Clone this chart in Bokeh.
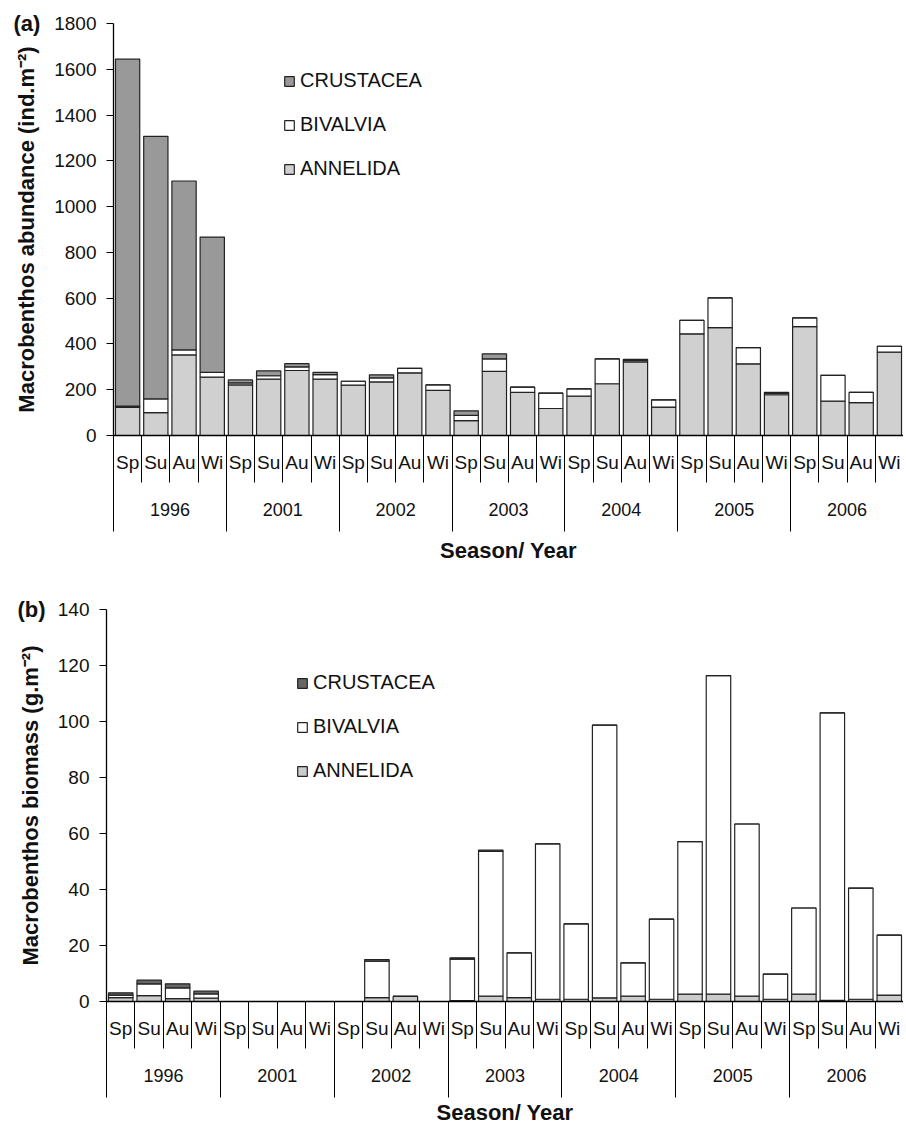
from bokeh.plotting import figure
from bokeh.models import Range1d, FixedTicker, LinearAxis, Legend, LegendItem
from bokeh.layouts import column
from bokeh.embed import file_html
from bokeh.resources import INLINE

# ---------------- data ----------------
seasons = ["Sp", "Su", "Au", "Wi"]
years = ["1996", "2001", "2002", "2003", "2004", "2005", "2006"]
taxa = ["CRUSTACEA", "BIVALVIA", "ANNELIDA"]

# (a) abundance, ind.m-2 (Sp, Su, Au, Wi for each year)
abund_annelida = [123, 100, 352, 255, 221, 246, 284, 246, 220, 234, 274, 197,
                  65, 280, 188, 118, 172, 226, 322, 124, 444, 471, 313, 178,
                  476, 150, 144, 364]
abund_bivalvia = [5, 60, 22, 21, 9, 15, 16, 20, 17, 18, 19, 24,
                  23, 55, 23, 67, 32, 109, 6, 32, 59, 130, 71, 6,
                  38, 113, 44, 26]
abund_crustacea = [1516, 1147, 738, 591, 13, 21, 14, 10, 0, 13, 0, 0,
                   20, 22, 0, 0, 0, 0, 5, 0, 0, 0, 0, 5,
                   0, 0, 0, 0]

# (b) biomass, g.m-2
biom_annelida = [1.4, 2.1, 1.0, 1.2, 0, 0, 0, 0, 0, 1.4, 1.8, 0,
                 0.3, 1.9, 1.4, 0.8, 0.8, 1.3, 1.9, 0.8, 2.6, 2.6, 1.9, 0.8,
                 2.6, 0.4, 0.8, 2.3]
biom_bivalvia = [0.9, 4.2, 3.9, 1.5, 0, 0, 0, 0, 0, 13.0, 0, 0,
                 14.8, 51.7, 16.0, 55.5, 26.9, 97.4, 11.9, 28.6, 54.5, 113.8, 61.5, 9.0,
                 30.8, 102.7, 39.7, 21.4]
biom_crustacea = [0.8, 1.3, 1.4, 1.0, 0, 0, 0, 0, 0, 0.6, 0, 0,
                  0.5, 0.5, 0, 0, 0, 0, 0, 0, 0, 0, 0, 0,
                  0, 0, 0, 0]

yticks_a = [0, 200, 400, 600, 800, 1000, 1200, 1400, 1600, 1800]
yticks_b = [0, 20, 40, 60, 80, 100, 120, 140]

# ---------------- helpers ----------------
NS = len(seasons)
N = NS * len(years)
season_labels = [seasons[i % NS] for i in range(N)]
xc = list(range(N))
bounds = [i - 0.5 for i in range(N + 1)]
year_centers = [NS * k + (NS - 1) / 2 for k in range(len(years))]
year_bounds = [NS * k - 0.5 for k in range(len(years) + 1)]

FONT = "Liberation Sans"


def make_panel(ann, biv, cru, yticks, ylabel, tag, c_cru, c_ann,
               frame_w, frame_h, b_left, b_top, b_bottom, leg_xy, tag_dx,
               ax_standoff):
    p = figure(frame_width=frame_w, frame_height=frame_h,
               x_range=Range1d(-0.5, N - 0.5), y_range=Range1d(yticks[0], yticks[-1]),
               output_backend="svg", toolbar_location=None,
               min_border_left=b_left, min_border_right=0,
               min_border_top=b_top, min_border_bottom=b_bottom)
    p.frame_align = False
    p.grid.visible = False
    p.outline_line_color = None

    # panel tag "(a)" / "(b)" as the figure title, pulled down beside the top tick
    p.title.text = tag
    p.title.align = "left"
    p.title.offset = -tag_dx
    p.title.standoff = -25
    p.title.vertical_align = "bottom"
    p.title.text_font = FONT
    p.title.text_font_size = "22px"
    p.title.text_font_style = "bold"
    p.title.text_color = "#111111"

    src = dict(x=xc, ann=ann, biv=biv, cru=cru)
    rs = p.vbar_stack(["ann", "biv", "cru"], x="x", width=0.86, source=src,
                      fill_color=[c_ann, "white", c_cru],
                      line_color="#222222", line_width=1.2)

    # y axis
    ya = p.yaxis[0]
    ya.ticker = FixedTicker(ticks=yticks)
    ya.major_tick_out = 7
    ya.major_tick_in = 0
    ya.major_tick_line_color = "black"
    ya.axis_line_color = "black"
    ya.axis_line_width = 1.3
    ya.major_label_text_font = FONT
    ya.major_label_text_font_size = "19px"
    ya.major_label_text_color = "#111111"
    ya.major_label_standoff = 10
    ya.axis_label = ylabel
    ya.axis_label_text_font = FONT
    ya.axis_label_text_font_size = "22px"
    ya.axis_label_text_font_style = "bold"
    ya.axis_label_text_color = "#111111"
    ya.axis_label_standoff = 12

    # x axis: seasons with separators
    xa = p.xaxis[0]
    xa.ticker = FixedTicker(ticks=xc, minor_ticks=bounds)
    xa.major_label_overrides = {i: season_labels[i] for i in range(N)}
    xa.major_tick_out = 0
    xa.major_tick_in = 0
    xa.major_tick_line_color = None
    xa.minor_tick_out = 47
    xa.minor_tick_in = 0
    xa.minor_tick_line_color = "black"
    xa.minor_tick_line_width = 1
    xa.axis_line_color = "black"
    xa.axis_line_width = 1.3
    xa.major_label_standoff = -31
    xa.major_label_text_font = FONT
    xa.major_label_text_font_size = "19px"
    xa.major_label_text_color = "#111111"

    # second x axis: years with long separators
    xa2 = LinearAxis(ticker=FixedTicker(ticks=year_centers, minor_ticks=year_bounds),
                     major_label_overrides={c: y for c, y in zip(year_centers, years)},
                     axis_line_color=None, major_tick_line_color=None,
                     major_tick_out=0, major_tick_in=0,
                     minor_tick_out=56, minor_tick_in=0,
                     minor_tick_line_color="black", minor_tick_line_width=1,
                     major_label_standoff=-29,
                     major_label_text_font=FONT, major_label_text_font_size="18px",
                     major_label_text_color="#111111",
                     axis_label="Season/ Year", axis_label_text_font=FONT,
                     axis_label_text_font_size="22px", axis_label_text_font_style="bold",
                     axis_label_text_color="#111111", axis_label_standoff=ax_standoff)
    p.add_layout(xa2, "below")

    items = [LegendItem(label=taxa[0], renderers=[rs[2]]),
             LegendItem(label=taxa[1], renderers=[rs[1]]),
             LegendItem(label=taxa[2], renderers=[rs[0]])]
    leg = Legend(items=items, location=leg_xy, glyph_width=12, glyph_height=12,
                 label_text_font=FONT, label_text_font_size="20px",
                 label_text_color="#111111", label_standoff=5,
                 spacing=21, padding=0, margin=0,
                 border_line_color=None, background_fill_alpha=0)
    p.add_layout(leg)
    return p


p1 = make_panel(abund_annelida, abund_bivalvia, abund_crustacea, yticks_a,
                "Macrobenthos abundance (ind.m\u207b\u00b2)", "(a)", "#999999", "#d0d0d0",
                790, 412, 113, 23, 125, (170, 255), 100, 19)
p2 = make_panel(biom_annelida, biom_bivalvia, biom_crustacea, yticks_b,
                "Macrobenthos biomass (g.m\u207b\u00b2)", "(b)", "#666666", "#cccccc",
                797, 392, 106, 44, 120, (190, 219), 89, 15)

layout = column(p1, p2)
open("out.html", "w").write(file_html(layout, INLINE))
